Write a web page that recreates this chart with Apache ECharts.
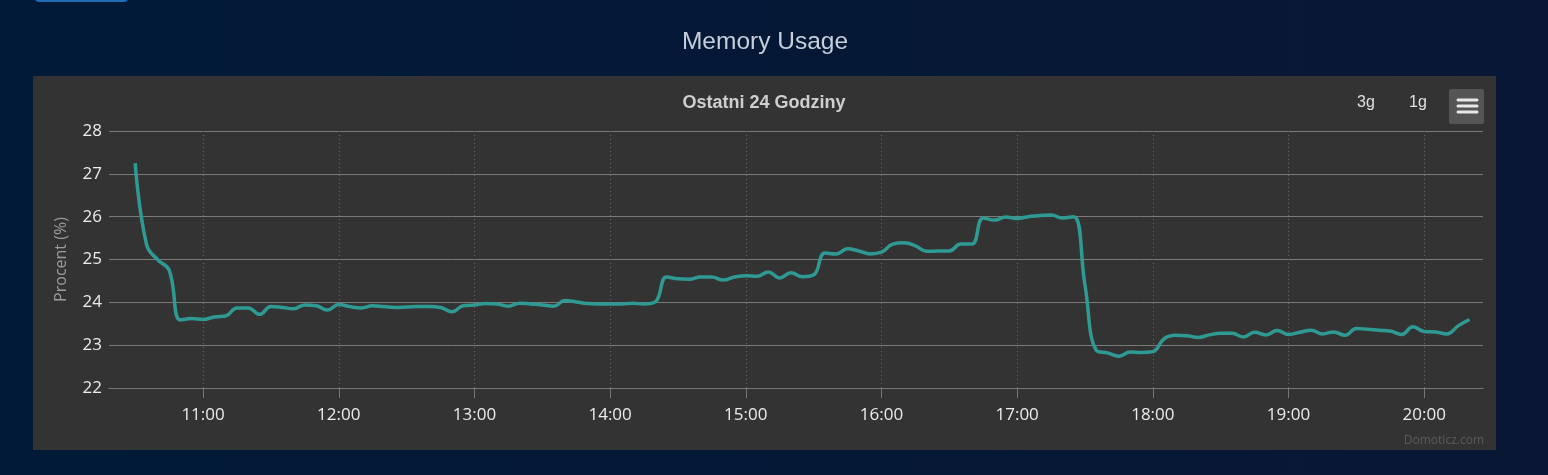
<!DOCTYPE html>
<html><head><meta charset="utf-8">
<script src="https://cdn.jsdelivr.net/npm/echarts@6/dist/echarts.min.js"></script>
<style>html,body{margin:0;padding:0;background:#011a38;} #c{width:1548px;height:475px;}</style>
</head><body><div id="c"></div>
<script>
const times = ['10:30','10:35','10:40','10:45','10:50','10:55',
'11:00','11:05','11:10','11:15','11:20','11:25','11:30','11:35','11:40','11:45','11:50','11:55',
'12:00','12:05','12:10','12:15','12:20','12:25','12:30','12:35','12:40','12:45','12:50','12:55',
'13:00','13:05','13:10','13:15','13:20','13:25','13:30','13:35','13:40','13:45','13:50','13:55',
'14:00','14:05','14:10','14:15','14:20','14:25','14:30','14:35','14:40','14:45','14:50','14:55',
'15:00','15:05','15:10','15:15','15:20','15:25','15:30','15:35','15:40','15:45','15:50','15:55',
'16:00','16:05','16:10','16:15','16:20','16:25','16:30','16:35','16:40','16:45','16:50','16:55',
'17:00','17:05','17:10','17:15','17:20','17:25','17:30','17:35','17:40','17:45','17:50','17:55',
'18:00','18:05','18:10','18:15','18:20','18:25','18:30','18:35','18:40','18:45','18:50','18:55',
'19:00','19:05','19:10','19:15','19:20','19:25','19:30','19:35','19:40','19:45','19:50','19:55',
'20:00','20:05','20:10','20:15','20:20'];
const memory = [27.25,25.35,24.99,24.75,23.59,23.62,
23.6,23.66,23.68,23.87,23.87,23.72,23.9,23.88,23.85,23.94,23.92,23.82,
23.95,23.9,23.87,23.92,23.9,23.88,23.89,23.9,23.9,23.88,23.78,23.92,
23.94,23.97,23.96,23.91,23.98,23.96,23.94,23.91,24.04,24.01,23.97,23.96,
23.96,23.96,23.98,23.96,24.01,24.59,24.55,24.54,24.59,24.59,24.52,24.59,
24.62,24.61,24.71,24.57,24.69,24.6,24.64,25.15,25.13,25.25,25.2,25.13,
25.17,25.36,25.39,25.32,25.19,25.2,25.2,25.36,25.36,25.97,25.92,25.99,
25.96,26.0,26.03,26.04,25.97,26.0,24.4,22.88,22.82,22.74,22.84,22.83,
22.85,23.15,23.23,23.22,23.18,23.24,23.28,23.28,23.19,23.3,23.24,23.34,
23.25,23.3,23.35,23.26,23.31,23.23,23.39,23.37,23.35,23.33,23.25,23.43,
23.32,23.31,23.26,23.45,23.6];
const xTickLabels = ['11:00','12:00','13:00','14:00','15:00','16:00','17:00','18:00','19:00','20:00'];
const yTicks = [22,23,24,25,26,27,28];

function toMin(s){const p=s.split(':').map(Number);return p[0]*60+p[1];}
function fmt(m){m=Math.round(m);const h=Math.floor(m/60),mm=m%60;return h+':'+(mm<10?'0':'')+mm;}
const data = times.map((t,i)=>[toMin(t),memory[i]]);
const xTicks = xTickLabels.map(toMin);

const chart = echarts.init(document.getElementById('c'),null,{renderer:'canvas'});
chart.setOption({
  backgroundColor: new echarts.graphic.LinearGradient(0,0,1,0,[{offset:0,color:'#001a38'},{offset:1,color:'#091735'}]),
  animation:false,
  graphic:[
    {type:'rect',z:-10,shape:{x:35,y:-8,width:93,height:10,r:4},style:{fill:'#1c6cb6'}},
    {type:'rect',z:-10,shape:{x:33,y:76,width:1463,height:374},style:{fill:'#333333'}},
    {type:'text',x:765,y:42,style:{text:'Memory Usage',fill:'#c6ceda',font:'24.5px "Liberation Sans", Arial, sans-serif',textAlign:'center',textVerticalAlign:'middle'}},
    {type:'text',x:764,y:103,style:{text:'Ostatni 24 Godziny',fill:'#cfcfcf',font:'bold 18px "Liberation Sans", Arial, sans-serif',textAlign:'center',textVerticalAlign:'middle'}},
    {type:'text',x:1366,y:103,style:{text:'3g',fill:'#e0e0e0',font:'16px "Liberation Sans", Arial, sans-serif',textAlign:'center',textVerticalAlign:'middle'}},
    {type:'text',x:1418,y:103,style:{text:'1g',fill:'#e0e0e0',font:'16px "Liberation Sans", Arial, sans-serif',textAlign:'center',textVerticalAlign:'middle'}},
    {type:'rect',shape:{x:1449,y:89,width:35,height:35,r:2},style:{fill:'#555555'}},
    {type:'line',shape:{x1:1458,y1:100,x2:1477,y2:100},style:{stroke:'#e8e8e8',lineWidth:3,lineCap:'round'}},
    {type:'line',shape:{x1:1458,y1:106,x2:1477,y2:106},style:{stroke:'#e8e8e8',lineWidth:3,lineCap:'round'}},
    {type:'line',shape:{x1:1458,y1:112,x2:1477,y2:112},style:{stroke:'#e8e8e8',lineWidth:3,lineCap:'round'}},
    {type:'text',x:1484,y:441,style:{text:'Domoticz.com',fill:'#5c5c5c',font:'12px "Open Sans", sans-serif',textAlign:'right',textVerticalAlign:'middle'}}
  ],
  grid:{left:109,right:65,top:131,bottom:87,containLabel:false},
  xAxis:{
    type:'value',min:618.4,max:1226,
    axisLine:{show:true,lineStyle:{color:'#777777',width:1}},
    axisTick:{show:true,length:10,lineStyle:{color:'#777777'},customValues:xTicks},
    axisLabel:{customValues:xTicks,formatter:v=>fmt(v),color:'#ececec',fontSize:17,fontFamily:'"Open Sans", sans-serif',margin:19},
    splitLine:{show:true,lineStyle:{color:'#666666',type:[1,3],width:1}}
  },
  yAxis:{
    type:'value',min:22,max:28,interval:1,
    name:'Procent (%)',nameLocation:'middle',nameGap:40,nameRotate:90,
    nameTextStyle:{color:'#9c9c9c',fontSize:16,fontFamily:'"Open Sans", sans-serif'},
    axisLine:{show:false},axisTick:{show:false},
    axisLabel:{color:'#ececec',fontSize:17,fontFamily:'"Open Sans", sans-serif',margin:7},
    splitLine:{show:true,lineStyle:{color:'#7a7a7a',width:1}}
  },
  series:[{
    type:'line',data:data,smooth:0.45,showSymbol:false,
    lineStyle:{color:'#2f9a94',width:3.5},itemStyle:{color:'#2f9a94'}
  }]
});
</script></body></html>
